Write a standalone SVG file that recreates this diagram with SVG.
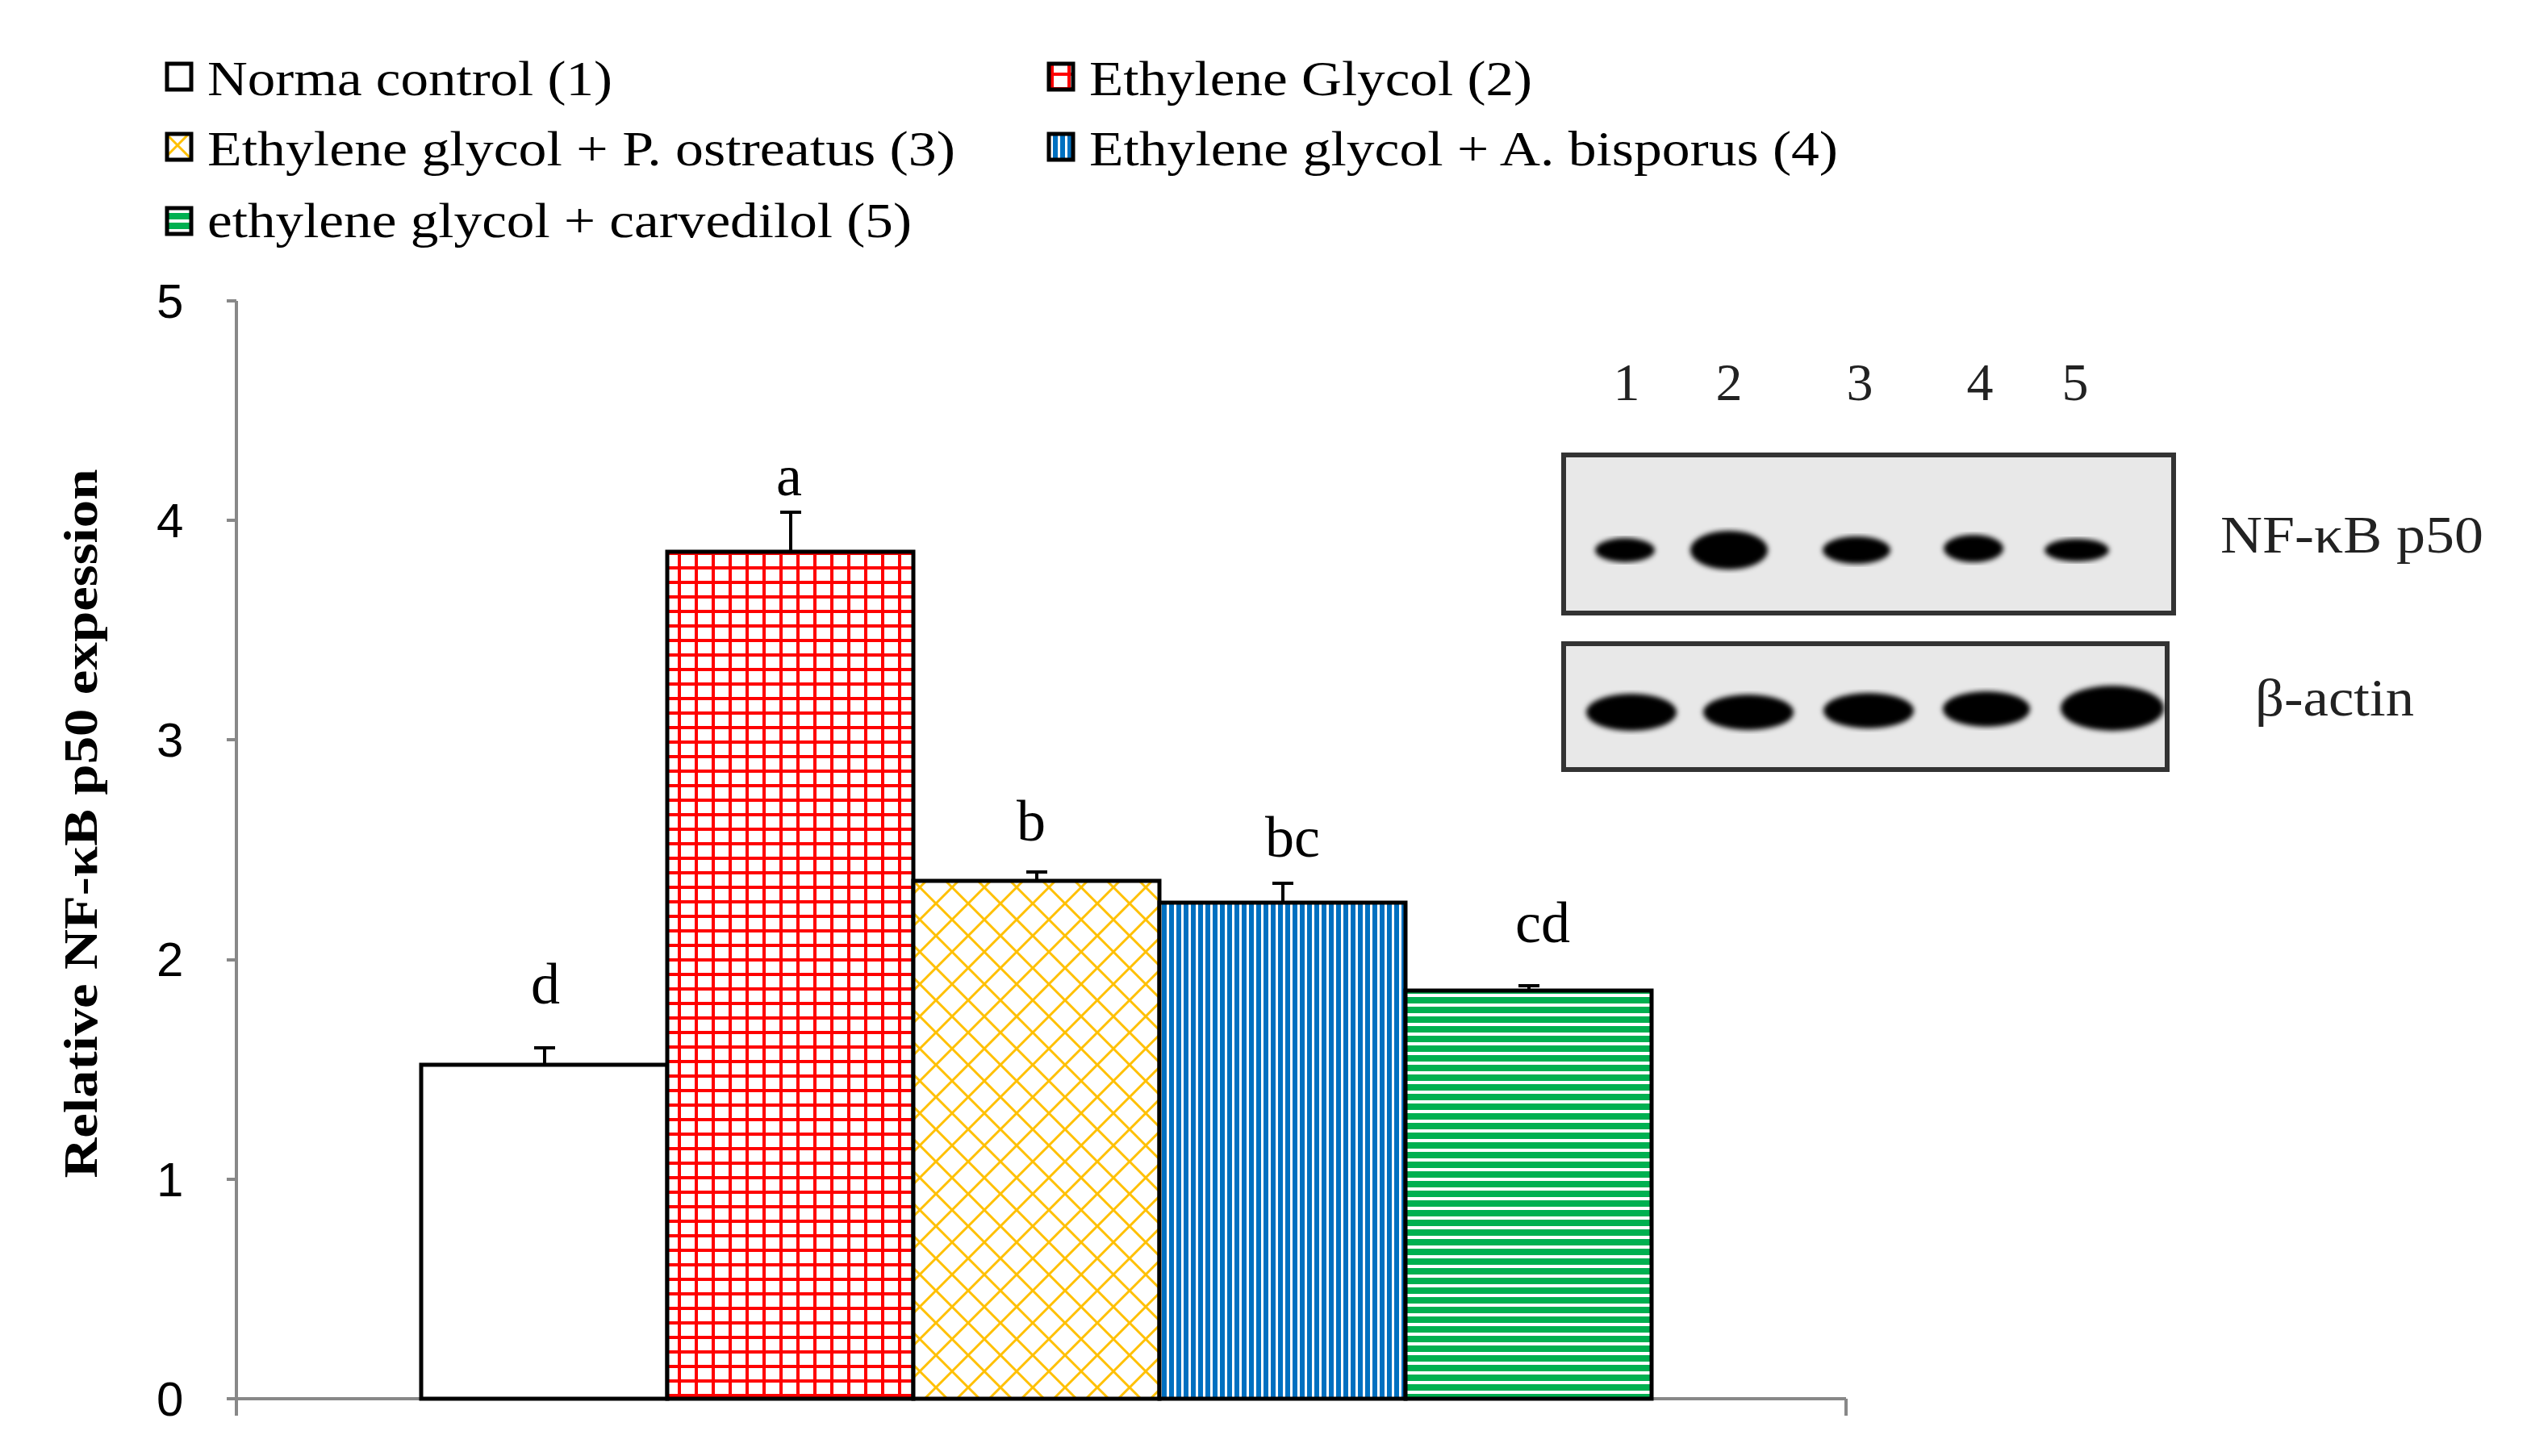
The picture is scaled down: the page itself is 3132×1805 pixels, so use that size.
<svg xmlns="http://www.w3.org/2000/svg" width="3132" height="1805" viewBox="0 0 3132 1805">
<style>
.leg{font-family:"Liberation Serif",serif;font-size:62px;fill:#000}
.tick{font-family:"Liberation Sans",sans-serif;font-size:60px;fill:#000}
.lbl{font-family:"Liberation Serif",serif;font-size:72px;fill:#000}
.wb{font-family:"Liberation Serif",serif;font-size:66px;fill:#222}
.bar{stroke:#000;stroke-width:5}
.ax{stroke:#888;stroke-width:4;fill:none}
.err{stroke:#000;stroke-width:4;fill:none}
.band{fill:#000;filter:url(#blur)}
</style>
<defs>
<pattern id="pRed" width="21" height="18" patternUnits="userSpaceOnUse"><rect width="21" height="18" fill="#fff"/><path d="M0 1.5H21M1.5 0V18" stroke="#f00" stroke-width="5"/></pattern>
<pattern id="pYel" width="40" height="40" patternUnits="userSpaceOnUse"><rect width="40" height="40" fill="#fff"/><path d="M0 0L40 40M40 0L0 40" stroke="#ffc000" stroke-width="3"/></pattern>
<pattern id="pBlue" width="9" height="10" patternUnits="userSpaceOnUse"><rect width="9" height="10" fill="#fff"/><rect width="6" height="10" fill="#0070c0"/></pattern>
<pattern id="pGreen" width="10" height="12" patternUnits="userSpaceOnUse"><rect width="10" height="12" fill="#fff"/><rect width="10" height="8" fill="#00b050"/></pattern>
<filter id="blur"><feGaussianBlur stdDeviation="3"/></filter>
</defs>
<rect width="3132" height="1805" fill="#fff"/>
<g id="legend">
<rect x="207" y="79" width="30" height="32" fill="#fff" stroke="#000" stroke-width="5"/><text class="leg" x="257" y="118" textLength="502" lengthAdjust="spacingAndGlyphs">Norma control (1)</text>
<rect x="1300" y="79" width="30" height="32" fill="url(#pRed)" stroke="#000" stroke-width="5"/><text class="leg" x="1350" y="118" textLength="549" lengthAdjust="spacingAndGlyphs">Ethylene Glycol (2)</text>
<rect x="207" y="166" width="30" height="32" fill="url(#pYel)" stroke="#000" stroke-width="5"/><text class="leg" x="257" y="205" textLength="927" lengthAdjust="spacingAndGlyphs">Ethylene glycol + P. ostreatus (3)</text>
<rect x="1300" y="166" width="30" height="32" fill="url(#pBlue)" stroke="#000" stroke-width="5"/><text class="leg" x="1350" y="205" textLength="928" lengthAdjust="spacingAndGlyphs">Ethylene glycol + A. bisporus (4)</text>
<rect x="207" y="258" width="30" height="32" fill="url(#pGreen)" stroke="#000" stroke-width="5"/><text class="leg" x="257" y="294" textLength="873" lengthAdjust="spacingAndGlyphs">ethylene glycol + carvedilol (5)</text>
</g>
<g id="axes">
<path class="ax" d="M293 373V1734M281 373H293M281 645H293M281 917H293M281 1190H293M281 1462H293M281 1734H2288M293 1734V1755M2288 1734V1755"/>
<text class="tick" x="194" y="394">5</text><text class="tick" x="194" y="666">4</text><text class="tick" x="194" y="938">3</text><text class="tick" x="194" y="1210">2</text><text class="tick" x="194" y="1483">1</text><text class="tick" x="194" y="1755">0</text>
<text x="0" y="0" transform="translate(120,1021) rotate(-90)" text-anchor="middle" font-family="Liberation Serif,serif" font-weight="bold" font-size="60" textLength="879" lengthAdjust="spacingAndGlyphs">Relative NF-κB  p50 expession</text>
</g>
<g id="bars">
<rect class="bar" x="522" y="1320" width="305" height="414" fill="#fff"/>
<rect class="bar" x="827" y="684" width="305" height="1050" fill="url(#pRed)"/>
<rect class="bar" x="1132" y="1092" width="305" height="642" fill="url(#pYel)"/>
<rect class="bar" x="1437" y="1119" width="305" height="615" fill="url(#pBlue)"/>
<rect class="bar" x="1742" y="1228" width="305" height="506" fill="url(#pGreen)"/>
<path class="err" d="M675 1320V1299M662 1299H688M980 684V635M967 635H993M1285 1092V1081M1272 1081H1298M1590 1119V1095M1577 1095H1603M1895 1228V1222M1882 1222H1908"/>
<text class="lbl" x="676" y="1244" text-anchor="middle">d</text>
<text class="lbl" x="978" y="614" text-anchor="middle">a</text>
<text class="lbl" x="1278" y="1042" text-anchor="middle">b</text>
<text class="lbl" x="1602" y="1062" text-anchor="middle">bc</text>
<text class="lbl" x="1912" y="1168" text-anchor="middle">cd</text>
</g>
<g id="blot">
<text class="wb" x="2016" y="496" text-anchor="middle">1</text><text class="wb" x="2143" y="496" text-anchor="middle">2</text><text class="wb" x="2305" y="496" text-anchor="middle">3</text><text class="wb" x="2454" y="496" text-anchor="middle">4</text><text class="wb" x="2572" y="496" text-anchor="middle">5</text>
<rect x="1938" y="564" width="756" height="196" fill="#e8e8e8" stroke="#333" stroke-width="6"/>
<ellipse class="band" cx="2014" cy="682" rx="37" ry="15"/><ellipse class="band" cx="2143" cy="682" rx="48" ry="24"/><ellipse class="band" cx="2301" cy="682" rx="42" ry="17"/><ellipse class="band" cx="2446" cy="680" rx="37" ry="17"/><ellipse class="band" cx="2574" cy="682" rx="40" ry="14"/>
<rect x="1938" y="798" width="748" height="156" fill="#e8e8e8" stroke="#333" stroke-width="6"/>
<ellipse class="band" cx="2022" cy="883" rx="56" ry="23"/><ellipse class="band" cx="2167" cy="883" rx="56" ry="22"/><ellipse class="band" cx="2316" cy="881" rx="56" ry="22"/><ellipse class="band" cx="2462" cy="879" rx="54" ry="22"/><ellipse class="band" cx="2618" cy="878" rx="64" ry="28"/>
<text class="wb" x="2752" y="685" textLength="326" lengthAdjust="spacingAndGlyphs">NF-κB p50</text>
<text class="wb" x="2795" y="887" textLength="197" lengthAdjust="spacingAndGlyphs">β-actin</text>
</g>
</svg>
